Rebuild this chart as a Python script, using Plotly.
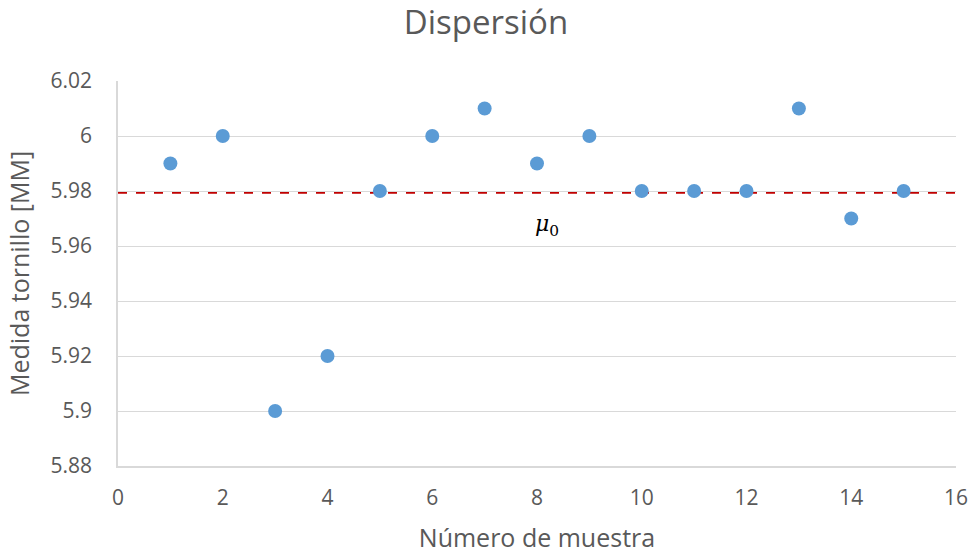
import plotly.graph_objects as go

# Sample number and measured screw size (mm)
muestras = [1, 2, 3, 4, 5, 6, 7, 8, 9, 10, 11, 12, 13, 14, 15]
medidas = [5.99, 6.00, 5.90, 5.92, 5.98, 6.00, 6.01, 5.99, 6.00, 5.98, 5.98, 5.98, 6.01, 5.97, 5.98]

# Reference mean line spanning the axis
mu0 = sum(medidas) / len(medidas)
linea_x = [0, 16]
linea_y = [mu0, mu0]

x_ticks = [0, 2, 4, 6, 8, 10, 12, 14, 16]
y_ticks = [5.88, 5.90, 5.92, 5.94, 5.96, 5.98, 6.00, 6.02]
y_labels = ["5.88", "5.9", "5.92", "5.94", "5.96", "5.98", "6", "6.02"]

FONT = "'Open Sans', sans-serif"
GREY = "#595959"

fig = go.Figure()
fig.add_trace(go.Scatter(
    x=linea_x, y=linea_y, mode="lines",
    line=dict(color="#C00000", width=1.6, dash="dash"),
    hoverinfo="skip", showlegend=False,
))
fig.add_trace(go.Scatter(
    x=muestras, y=medidas, mode="markers",
    marker=dict(size=14, color="#5B9BD5"),
    showlegend=False,
))

fig.add_annotation(
    x=8.2, y=5.9676, text="<i>μ</i><sub>0</sub>", showarrow=False,
    font=dict(family="'DejaVu Serif', serif", size=22, color="#000000"),
)

fig.update_layout(
    width=972, height=554,
    margin=dict(l=118, r=16, t=81, b=88, autoexpand=False),
    paper_bgcolor="white", plot_bgcolor="white",
    title=dict(text="Dispersión", x=0.5, xanchor="center", y=0.96, yanchor="middle",
               font=dict(family=FONT, size=33, color=GREY)),
    font=dict(family=FONT, color=GREY),
)
fig.update_xaxes(
    range=[0, 16], tickvals=x_ticks, ticktext=[str(v) for v in x_ticks],
    showgrid=False, zeroline=False, automargin=False,
    showline=True, linecolor="#D9D9D9", linewidth=1.5,
    ticks="", ticklabelstandoff=12,
    tickfont=dict(size=21, color=GREY),
    title=dict(text="Número de muestra", font=dict(size=25, color=GREY), standoff=27),
)
fig.update_yaxes(
    range=[5.88, 6.02], tickvals=y_ticks, ticktext=y_labels,
    showgrid=True, gridcolor="#D9D9D9", gridwidth=1.2, zeroline=False, automargin=False,
    showline=True, linecolor="#D9D9D9", linewidth=1.5,
    ticks="", ticklabelstandoff=20,
    tickfont=dict(size=21, color=GREY),
    title=dict(text="Medida tornillo [MM]", font=dict(size=25, color=GREY), standoff=14),
)

fig.write_html("out.html")
